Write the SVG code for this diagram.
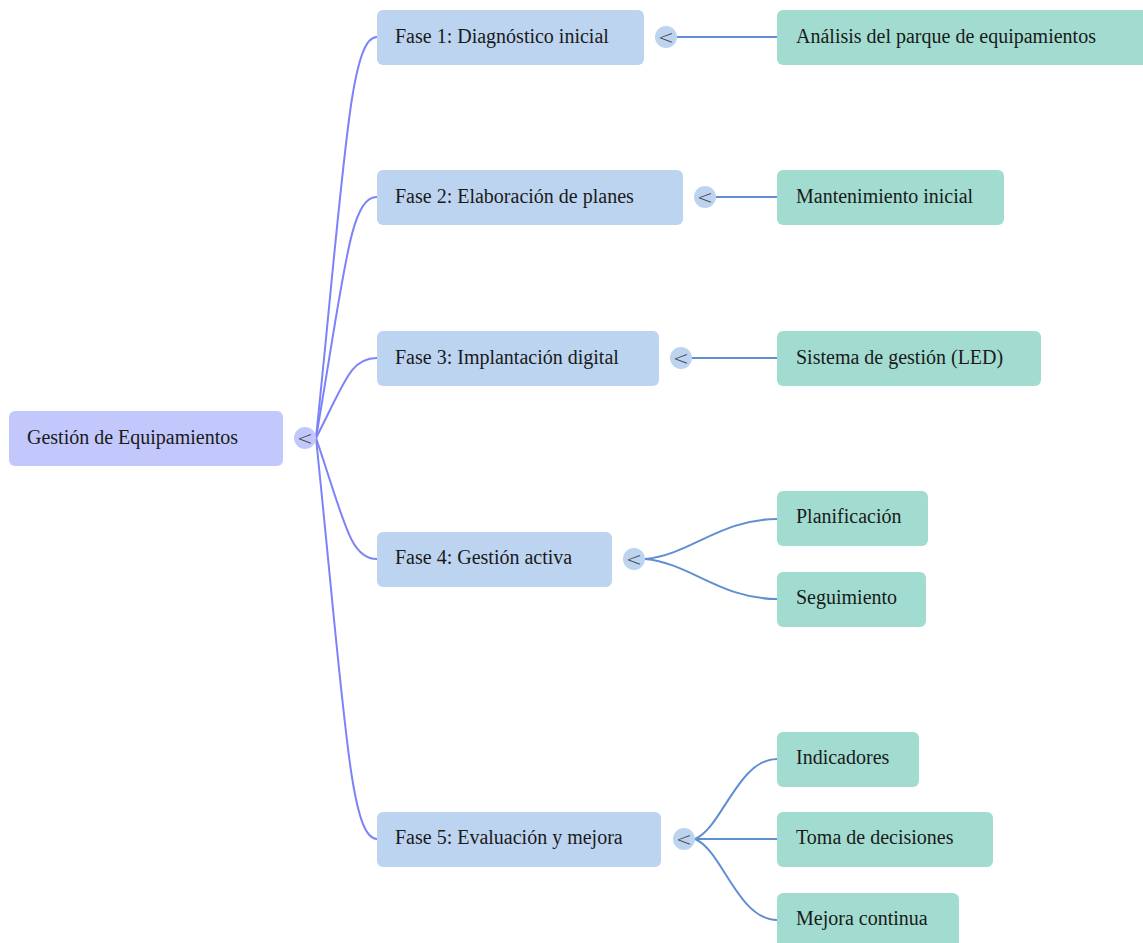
<svg xmlns="http://www.w3.org/2000/svg" width="1143" height="943" viewBox="0 0 1143 943">
<style>
text{font-family:"Liberation Serif","Times New Roman",serif;font-size:20px;fill:#1a1a1a}
.root rect{fill:#c3c8fc}
.phase rect{fill:#bcd4f0}
.leaf rect{fill:#a2dcd0}
.tog circle{stroke:none}
.tog text{font-family:"DejaVu Sans",sans-serif;font-size:19px;font-weight:300;text-anchor:middle;fill:#444}
.rc{fill:none;stroke:#7c83f8;stroke-width:2}
.cc{fill:none;stroke:#5f8fd2;stroke-width:2}
</style>
<rect width="1143" height="943" fill="#fff"/>
<g id="connectors">
<path class="rc" d="M316,438 C345,157 350,37 377,37"/>
<path class="rc" d="M316,438 C345,269 350,197 377,197"/>
<path class="rc" d="M316,438 C345,382 350,358 377,358"/>
<path class="rc" d="M316,438 C345,523 350,559 377,559"/>
<path class="rc" d="M316,438 C345,719 350,839 377,839"/>
<path class="cc" d="M677,37 L777,37"/>
<path class="cc" d="M716,197 L777,197"/>
<path class="cc" d="M692,358 L777,358"/>
<path class="cc" d="M645,559 C690,555 720,519 777,519"/>
<path class="cc" d="M645,559 C690,563 720,599 777,599"/>
<path class="cc" d="M695,839 C722,828 738,759 777,759"/>
<path class="cc" d="M695,839 L777,839"/>
<path class="cc" d="M695,839 C722,850 738,920 777,920"/>
</g>
<g id="root" class="root">
<rect x="9" y="411" width="274" height="55" rx="6"/>
<text x="27" y="444">Gestión de Equipamientos</text>
</g>
<g id="root-toggle" class="tog"><circle cx="305" cy="438" r="11" fill="#c3c8fc"/><text x="305" y="445">&lt;</text></g>
<g id="fase1" class="phase">
<rect x="377" y="10" width="267" height="55" rx="6"/>
<text x="395" y="43">Fase 1: Diagnóstico inicial</text>
</g>
<g id="fase1-toggle" class="tog"><circle cx="666" cy="37" r="11" fill="#bcd4f0"/><text x="666" y="44">&lt;</text></g>
<g id="fase2" class="phase">
<rect x="377" y="170" width="306" height="55" rx="6"/>
<text x="395" y="203">Fase 2: Elaboración de planes</text>
</g>
<g id="fase2-toggle" class="tog"><circle cx="705" cy="197" r="11" fill="#bcd4f0"/><text x="705" y="204">&lt;</text></g>
<g id="fase3" class="phase">
<rect x="377" y="331" width="282" height="55" rx="6"/>
<text x="395" y="364">Fase 3: Implantación digital</text>
</g>
<g id="fase3-toggle" class="tog"><circle cx="681" cy="358" r="11" fill="#bcd4f0"/><text x="681" y="365">&lt;</text></g>
<g id="fase4" class="phase">
<rect x="377" y="532" width="235" height="55" rx="6"/>
<text x="395" y="564">Fase 4: Gestión activa</text>
</g>
<g id="fase4-toggle" class="tog"><circle cx="634" cy="559" r="11" fill="#bcd4f0"/><text x="634" y="566">&lt;</text></g>
<g id="fase5" class="phase">
<rect x="377" y="812" width="284" height="55" rx="6"/>
<text x="395" y="844">Fase 5: Evaluación y mejora</text>
</g>
<g id="fase5-toggle" class="tog"><circle cx="684" cy="839" r="11" fill="#bcd4f0"/><text x="684" y="846">&lt;</text></g>
<g id="analisis" class="leaf">
<rect x="777" y="10" width="372" height="55" rx="6"/>
<text x="796" y="43">Análisis del parque de equipamientos</text>
</g>
<g id="mantenimiento" class="leaf">
<rect x="777" y="170" width="227" height="55" rx="6"/>
<text x="796" y="203">Mantenimiento inicial</text>
</g>
<g id="sistema" class="leaf">
<rect x="777" y="331" width="264" height="55" rx="6"/>
<text x="796" y="364">Sistema de gestión (LED)</text>
</g>
<g id="planificacion" class="leaf">
<rect x="777" y="491" width="151" height="55" rx="6"/>
<text x="796" y="523">Planificación</text>
</g>
<g id="seguimiento" class="leaf">
<rect x="777" y="572" width="149" height="55" rx="6"/>
<text x="796" y="604">Seguimiento</text>
</g>
<g id="indicadores" class="leaf">
<rect x="777" y="732" width="142" height="55" rx="6"/>
<text x="796" y="764">Indicadores</text>
</g>
<g id="toma" class="leaf">
<rect x="777" y="812" width="216" height="55" rx="6"/>
<text x="796" y="844">Toma de decisiones</text>
</g>
<g id="mejora" class="leaf">
<rect x="777" y="893" width="182" height="55" rx="6"/>
<text x="796" y="925">Mejora continua</text>
</g>
</svg>
